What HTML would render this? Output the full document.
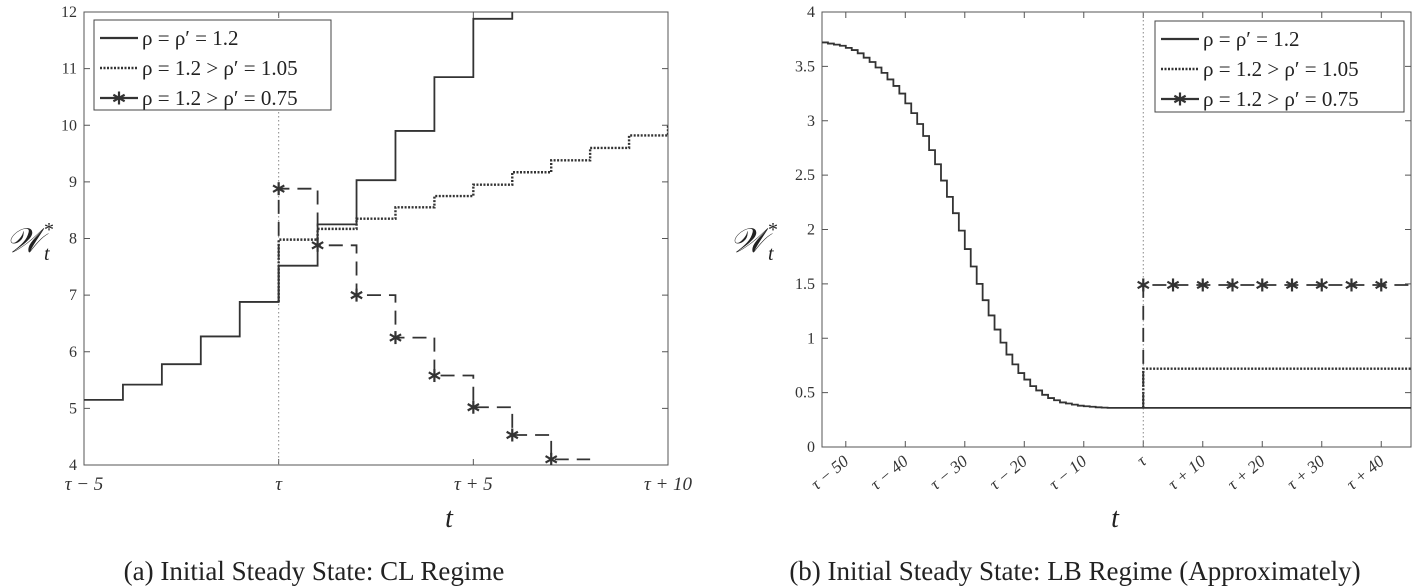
<!DOCTYPE html>
<html><head><meta charset="utf-8"><style>
body{margin:0;background:#fff;}
svg{display:block;font-family:"Liberation Serif",serif;}
</style></head><body>
<svg id="s" width="1416" height="588" viewBox="0 0 1416 588" xmlns="http://www.w3.org/2000/svg"></svg>
<script>
// ---- Left chart data (CL regime) ----
const leftSolidT = [-5,-4,-3,-2,-1,0,1,2,3,4,5,6];
const leftSolidV = [5.15,5.42,5.78,6.27,6.88,7.52,8.25,9.03,9.90,10.85,11.88,13.0];
const leftDotT = [0,1,2,3,4,5,6,7,8,9,10];
const leftDotV = [7.98,8.17,8.35,8.55,8.75,8.95,9.17,9.38,9.60,9.82,10.0];
const leftStarT = [0,1,2,3,4,5,6,7];
const leftStarV = [8.88,7.88,7.00,6.25,5.58,5.02,4.53,4.10];
const leftYTicks = [4,5,6,7,8,9,10,11,12];
const leftXTicks = [-5,0,5,10];
const leftXLabels = ["τ − 5","τ","τ + 5","τ + 10"];
// ---- Right chart data (LB regime) ----
const rightPreT = [-54,-53,-52,-51,-50,-49,-48,-47,-46,-45,-44,-43,-42,-41,-40,-39,-38,-37,-36,-35,-34,-33,-32,-31,-30,-29,-28,-27,-26,-25,-24,-23,-22,-21,-20,-19,-18,-17,-16,-15,-14,-13,-12,-11,-10,-9,-8,-7,-6,-5,-4,-3,-2,-1];
const rightPreV = [3.72,3.71,3.70,3.69,3.67,3.65,3.62,3.58,3.54,3.49,3.44,3.38,3.32,3.25,3.16,3.07,2.97,2.86,2.73,2.60,2.45,2.30,2.15,1.99,1.82,1.66,1.50,1.35,1.21,1.08,0.96,0.85,0.76,0.68,0.62,0.56,0.52,0.48,0.45,0.43,0.41,0.40,0.39,0.38,0.375,0.37,0.365,0.362,0.36,0.36,0.36,0.36,0.36,0.36];
const rightPostSolid = 0.36;
const rightPostDot = 0.72;
const rightPostStar = 1.49;
const rightStarT = [0,5,10,15,20,25,30,35,40];
const rightYTicks = [0,0.5,1,1.5,2,2.5,3,3.5,4];
const rightXTicks = [-50,-40,-30,-20,-10,0,10,20,30,40];
const rightXLabels = ["τ − 50","τ − 40","τ − 30","τ − 20","τ − 10","τ","τ + 10","τ + 20","τ + 30","τ + 40"];

const NS="http://www.w3.org/2000/svg";
const svg=document.getElementById('s');
function el(tag,attrs,parent){const e=document.createElementNS(NS,tag);for(const k in attrs)e.setAttribute(k,attrs[k]);(parent||svg).appendChild(e);return e;}
function txt(s,attrs,parent){const e=el('text',attrs,parent);e.textContent=s;return e;}

const L={x0:84,x1:668,y0:12,y1:465,tmin:-5,tmax:10,vmin:4,vmax:12};
const R={x0:822,x1:1411,y0:12,y1:447,tmin:-54,tmax:45,vmin:0,vmax:4};
function fx(c,t){return c.x0+(t-c.tmin)/(c.tmax-c.tmin)*(c.x1-c.x0);}
function fy(c,v){return c.y1-(v-c.vmin)/(c.vmax-c.vmin)*(c.y1-c.y0);}
function stepPath(c,ts,vs,tEnd,startV){
  let d='';
  if(startV!==undefined){d='M'+fx(c,ts[0])+','+fy(c,startV)+' L'+fx(c,ts[0])+','+fy(c,vs[0]);}
  else d='M'+fx(c,ts[0])+','+fy(c,vs[0]);
  for(let i=0;i<ts.length;i++){
    const tn=i+1<ts.length?ts[i+1]:tEnd;
    d+=' L'+fx(c,tn)+','+fy(c,vs[i]);
    if(i+1<ts.length)d+=' L'+fx(c,tn)+','+fy(c,vs[i+1]);
  }
  return d;
}
function star(g,x,y){
  const r=6.5;
  for(const a of [0,60,120]){const rad=a*Math.PI/180;
    el('line',{x1:x-r*Math.sin(rad),y1:y-r*Math.cos(rad),x2:x+r*Math.sin(rad),y2:y+r*Math.cos(rad),stroke:'#333','stroke-width':2.2},g);}
}
function clip(c,id){const cp=el('clipPath',{id:id});el('rect',{x:c.x0,y:c.y0,width:c.x1-c.x0,height:c.y1-c.y0},cp);}
clip(L,'cl');clip(R,'cr');

function frame(c,name,yt,ytFmt,xt,xl,rot){
  const g=el('g',{});
  
  
  el('rect',{x:c.x0,y:c.y0,width:c.x1-c.x0,height:c.y1-c.y0,fill:'none',stroke:'#555','stroke-width':1},g);
  for(const v of yt){const y=fy(c,v);
    el('line',{x1:c.x0,y1:y,x2:c.x0+6,y2:y,stroke:'#555'},g);
    el('line',{x1:c.x1,y1:y,x2:c.x1-6,y2:y,stroke:'#555'},g);
    const t=txt(ytFmt(v),{x:c.x0-7,y:y+5,'text-anchor':'end','font-size':16,fill:'#333'},g);
    }
  xt.forEach((v,i)=>{const x=fx(c,v);
    el('line',{x1:x,y1:c.y1,x2:x,y2:c.y1-6,stroke:'#555'},g);
    el('line',{x1:x,y1:c.y0,x2:x,y2:c.y0+6,stroke:'#555'},g);
    let t;
    if(rot){t=txt(xl[i],{x:x+4,y:c.y1+16,'text-anchor':'end','font-size':17,'font-style':'italic',fill:'#333',transform:'rotate(-40 '+(x+4)+' '+(c.y1+16)+')'},g);}
    else{t=txt(xl[i],{x:x,y:c.y1+25,'text-anchor':'middle','font-size':19,'font-style':'italic',fill:'#333'},g);}
    });
  el('line',{x1:fx(c,0),y1:c.y0,x2:fx(c,0),y2:c.y1,stroke:'#888','stroke-width':1,'stroke-dasharray':'1.5,2.5'},g);
}
frame(L,'left',leftYTicks,v=>String(v),leftXTicks,leftXLabels,false);
frame(R,'right',rightYTicks,v=>String(v),rightXTicks,rightXLabels,true);

// Left series
let gl=el('g',{'clip-path':'url(#cl)'});
let p=el('path',{d:stepPath(L,leftSolidT,leftSolidV,7),fill:'none',stroke:'#333','stroke-width':1.8},gl);

p=el('path',{d:stepPath(L,leftDotT,leftDotV,10.5,6.88),fill:'none',stroke:'#333','stroke-width':2.4,'stroke-dasharray':'2,1.5'},gl);

p=el('path',{d:stepPath(L,leftStarT,leftStarV,8,6.88),fill:'none',stroke:'#333','stroke-width':1.8,'stroke-dasharray':'14,8'},gl);

leftStarT.forEach((t,i)=>star(gl,fx(L,t),fy(L,leftStarV[i])));

// Right series
let gr=el('g',{'clip-path':'url(#cr)'});
const allT=rightPreT.concat([0]);const allV=rightPreV.concat([rightPostSolid]);
p=el('path',{d:stepPath(R,allT,allV,45),fill:'none',stroke:'#333','stroke-width':1.8},gr);

p=el('path',{d:'M'+fx(R,0)+','+fy(R,rightPostSolid)+' L'+fx(R,0)+','+fy(R,rightPostDot)+' L'+fx(R,45)+','+fy(R,rightPostDot),fill:'none',stroke:'#333','stroke-width':2.4,'stroke-dasharray':'2,1.5'},gr);

p=el('path',{d:'M'+fx(R,0)+','+fy(R,rightPostSolid)+' L'+fx(R,0)+','+fy(R,rightPostStar)+' L'+fx(R,45)+','+fy(R,rightPostStar),fill:'none',stroke:'#333','stroke-width':1.8,'stroke-dasharray':'14,8'},gr);

rightStarT.forEach(t=>star(gr,fx(R,t),fy(R,rightPostStar)));

// Legends
function legend(x,y,w,h,name){
  const g=el('g',{});
  
  el('rect',{x:x,y:y,width:w,height:h,fill:'#fff',stroke:'#444'},g);
  const labels=['ρ = ρ′ = 1.2','ρ = 1.2 > ρ′ = 1.05','ρ = 1.2 > ρ′ = 0.75'];
  const styles=[{},{'stroke-dasharray':'2,1.5','stroke-width':2.6},{}];
  labels.forEach((s,i)=>{const yy=y+18+i*30;
    el('line',Object.assign({x1:x+6,y1:yy,x2:x+44,y2:yy,stroke:'#333','stroke-width':2.2},styles[i]),g);
    if(i==2)star(g,x+25,yy);
    const t=txt(s,{x:x+48,y:yy+7,'font-size':21,fill:'#222'},g);
    });
}
legend(94,20,237,90,'left-legend');
legend(1155,21,249,91,'right-legend');

// axis titles & captions
function lab(s,a,name){const t=txt(s,a);return t;}
lab('𝒲',{x:6,y:252,'font-size':34,'font-style':'italic',fill:'#222'},'left-y-axis-title');
lab('*',{x:44,y:236,'font-size':20,fill:'#222'},'left-y-axis-title-sup');
lab('t',{x:44,y:260,'font-size':20,'font-style':'italic',fill:'#222'},'left-y-axis-title-sub');
lab('𝒲',{x:730,y:252,'font-size':34,'font-style':'italic',fill:'#222'},'right-y-axis-title');
lab('*',{x:768,y:236,'font-size':20,fill:'#222'},'right-y-axis-title-sup');
lab('t',{x:768,y:260,'font-size':20,'font-style':'italic',fill:'#222'},'right-y-axis-title-sub');
lab('t',{x:449,y:527,'font-size':28,'font-style':'italic',fill:'#222','text-anchor':'middle'},'left-x-axis-title');
lab('t',{x:1115,y:527,'font-size':28,'font-style':'italic',fill:'#222','text-anchor':'middle'},'right-x-axis-title');
lab('(a) Initial Steady State: CL Regime',{x:314,y:580,'font-size':27,fill:'#222','text-anchor':'middle'},'left-caption');
lab('(b) Initial Steady State: LB Regime (Approximately)',{x:1075,y:580,'font-size':27,fill:'#222','text-anchor':'middle'},'right-caption');
</script>
</body></html>
